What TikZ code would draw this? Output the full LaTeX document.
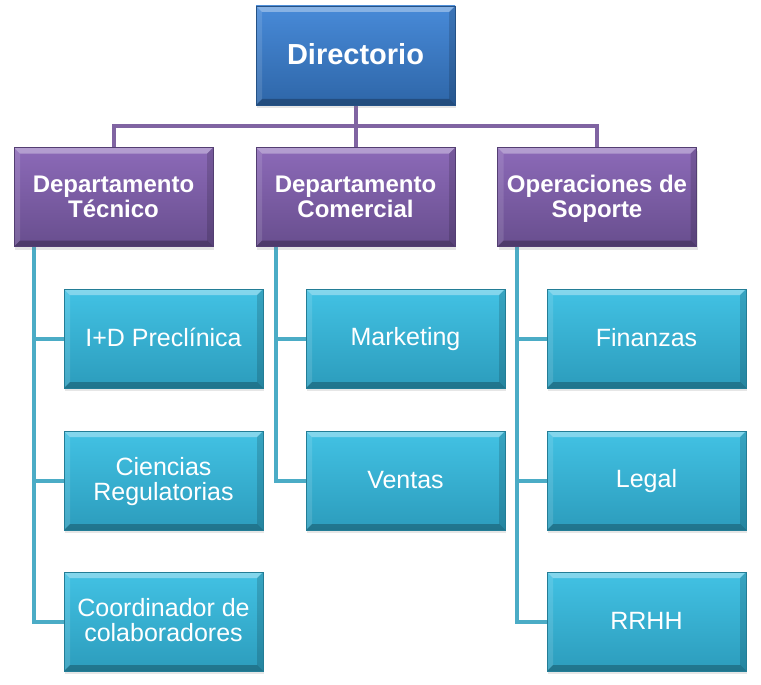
\documentclass[tikz,border=0pt]{standalone}
\usepackage{fontspec}
\setmainfont{Liberation Sans}
\usetikzlibrary{shadows,backgrounds}
\definecolor{blueTop}{RGB}{72,138,216}
\definecolor{blueBot}{RGB}{46,102,168}
\definecolor{purTop}{RGB}{140,106,184}
\definecolor{purBot}{RGB}{104,78,142}
\definecolor{cyTop}{RGB}{66,194,228}
\definecolor{cyBot}{RGB}{44,156,188}
\definecolor{pline}{RGB}{128,100,162}
\definecolor{cline}{RGB}{75,172,198}
\newcommand\mystr{\rule[-0.2\baselineskip]{0pt}{\baselineskip}}
\tikzset{
  bevel/.style={path picture={
    \fill[white,opacity=0.35] (path picture bounding box.north west) -- (path picture bounding box.north east) -- ([xshift=-6pt,yshift=-6pt]path picture bounding box.north east) -- ([xshift=6pt,yshift=-6pt]path picture bounding box.north west) -- cycle;
    \fill[white,opacity=0.12] (path picture bounding box.north west) -- (path picture bounding box.south west) -- ([xshift=6pt,yshift=6pt]path picture bounding box.south west) -- ([xshift=6pt,yshift=-6pt]path picture bounding box.north west) -- cycle;
    \fill[black,opacity=0.25] (path picture bounding box.south west) -- (path picture bounding box.south east) -- ([xshift=-6pt,yshift=6pt]path picture bounding box.south east) -- ([xshift=6pt,yshift=6pt]path picture bounding box.south west) -- cycle;
    \fill[black,opacity=0.15] (path picture bounding box.north east) -- (path picture bounding box.south east) -- ([xshift=-6pt,yshift=6pt]path picture bounding box.south east) -- ([xshift=-6pt,yshift=-6pt]path picture bounding box.north east) -- cycle;
  }},
  box/.style={rectangle, minimum width=199pt, minimum height=99pt, inner sep=0pt,
    text=white, align=center, bevel, drop shadow={shadow xshift=1pt, shadow yshift=-3pt, opacity=0.2}},
  topbox/.style={box, top color=blueTop, bottom color=blueBot, draw=blueBot!80!black, line width=0.6pt,
    font=\bfseries\fontsize{29}{31}\selectfont},
  depbox/.style={box, top color=purTop, bottom color=purBot, draw=purBot!80!black, line width=0.6pt,
    font=\bfseries\fontsize{24}{25}\selectfont},
  unitbox/.style={box, top color=cyTop, bottom color=cyBot, draw=cyBot!80!black, line width=0.6pt,
    font=\fontsize{25}{25}\selectfont},
  pconn/.style={draw=pline, line width=4pt},
  cconn/.style={draw=cline, line width=4pt},
}
\begin{document}
\begin{tikzpicture}[x=1pt,y=-1pt]
\useasboundingbox (0,0) rectangle (761,685);

\node[topbox] (dir) at (355.5,55.5) {Directorio\mystr};
\node[depbox] (dt) at (113.5,197) {Departamento\mystr\\Técnico\mystr};
\node[depbox] (dc) at (355.5,197) {Departamento\mystr\\Comercial\mystr};
\node[depbox] (os) at (597,197) {Operaciones de\mystr\\Soporte\mystr};

\node[unitbox] (a1) at (163.5,338.5) {I+D Preclínica\mystr};
\node[unitbox] (a2) at (163.5,480.5) {Ciencias\mystr\\Regulatorias\mystr};
\node[unitbox] (a3) at (163.5,621.5) {Coordinador de\mystr\\colaboradores\mystr};
\node[unitbox] (b1) at (405.5,338.5) {Marketing\mystr};
\node[unitbox] (b2) at (405.5,480.5) {Ventas\mystr};
\node[unitbox] (c1) at (646.5,338.5) {Finanzas\mystr};
\node[unitbox] (c2) at (646.5,480.5) {Legal\mystr};
\node[unitbox] (c3) at (646.5,621.5) {RRHH\mystr};

\begin{scope}[on background layer]
  \coordinate (bus) at (dir.south |- 0,126);
  \draw[pconn] (dir.south) -- (dc.north);
  \draw[pconn] (dt.north) |- (bus) -| (os.north);
  \coordinate (t0) at ([xshift=20pt]dt.south west);
  \coordinate (t1) at ([xshift=20pt]dc.south west);
  \coordinate (t2) at ([xshift=20pt]os.south west);
  \draw[cconn] (t0) |- (a3.west);
  \draw[cconn] (a1.west) -- (a1.west -| t0);
  \draw[cconn] (a2.west) -- (a2.west -| t0);
  \draw[cconn] (t1) |- (b2.west);
  \draw[cconn] (b1.west) -- (b1.west -| t1);
  \draw[cconn] (t2) |- (c3.west);
  \draw[cconn] (c1.west) -- (c1.west -| t2);
  \draw[cconn] (c2.west) -- (c2.west -| t2);
\end{scope}
\end{tikzpicture}
\end{document}
